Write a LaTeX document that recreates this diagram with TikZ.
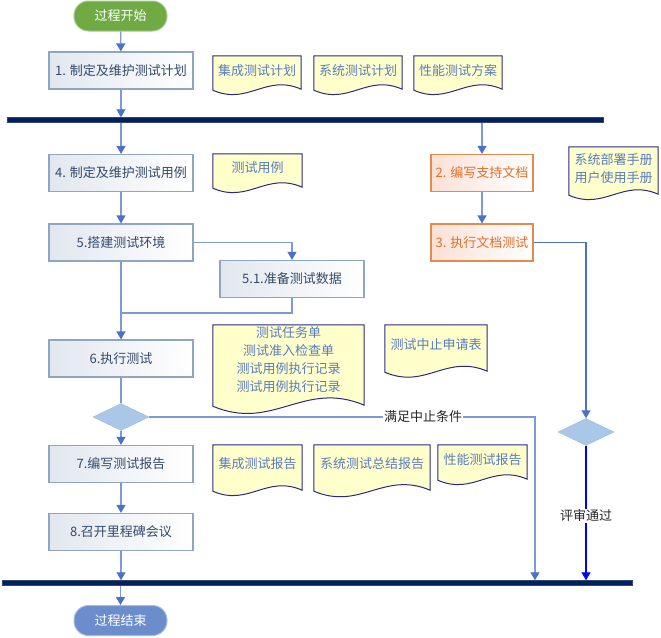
\documentclass[tikz,border=0pt]{standalone}
\usepackage{fontspec}
\setmainfont{Noto Sans CJK SC}
\usetikzlibrary{arrows.meta,shapes.geometric,calc}
\pgfdeclarelayer{bg}
\pgfsetlayers{bg,main}
\definecolor{procline}{HTML}{8FA5C0}
\definecolor{procfill}{HTML}{E2E7EF}
\definecolor{proctext}{HTML}{34496A}
\definecolor{orline}{HTML}{E38A4E}
\definecolor{orfill}{HTML}{FBE0D6}
\definecolor{ortext}{HTML}{E0702A}
\definecolor{docline}{HTML}{2A2A86}
\definecolor{docfill}{HTML}{FFFFCC}
\definecolor{doctext}{HTML}{5A7CC2}
\definecolor{conn}{HTML}{7C9AD8}
\definecolor{tipc}{HTML}{4A72C6}
\definecolor{barc}{HTML}{002060}
\definecolor{diafill}{HTML}{A9C8E8}
\definecolor{startc}{HTML}{6FAA45}
\definecolor{endc}{HTML}{6B8DCC}
\tikzset{
  txt/.style={font=\fontsize{13}{18}\selectfont},
  proc/.style={txt, draw=procline, line width=1.2pt, left color=procfill, right color=white,
    minimum width=144pt, minimum height=37pt, inner sep=0pt, text=proctext},
  orproc/.style={txt, draw=orline, line width=1.2pt, left color=orfill, right color=white,
    minimum width=102pt, minimum height=37pt, inner sep=0pt, text=ortext},
  docnode/.style={txt, text=doctext, inner sep=0pt, align=center},
  pill/.style={txt, text=white, rounded corners=14.5pt, minimum width=93pt, minimum height=30pt, inner sep=0pt},
  dia/.style={diamond, fill=diafill, draw=diafill!80!gray, line width=0.4pt, minimum width=56pt, minimum height=27pt, inner sep=0pt},
  bar/.style={fill=barc, draw=barc!60!gray, line width=0.5pt, minimum height=5pt, inner sep=0pt},
  ln/.style={draw=conn, line width=1.2pt},
  arr/.style={ln, -{Triangle[width=9pt,length=8pt,color=tipc]}},
  lab/.style={txt, fill=white, text=black!85, inner sep=1pt},
}
\newcommand\wavy[4]{%
  \coordinate (#1-sw) at ($(#1.south west)+(0,#2)$);
  \coordinate (#1-se) at ($(#1.south east)+(0,#2-1)$);
  \begin{pgfonlayer}{bg}
  \draw[draw=docline, fill=docfill, line width=1pt] (#1.north west) -- (#1.north east) -- (#1-se)
    .. controls ($(#1-se)!0.4!(#1-sw)+(0,-#3)$) and ($(#1-se)!0.6!(#1-sw)+(0,#4)$) .. (#1-sw) -- cycle;
  \end{pgfonlayer}}
\begin{document}
\begin{tikzpicture}[x=1pt,y=-1pt]
\useasboundingbox (0,0) rectangle (661,637);
% start / end
\node[pill, fill=startc, draw=startc!60!white, line width=1pt] (start) at (120.5,16) {过程开始};
\node[pill, fill=endc, draw=endc!60!white, line width=1pt] (end) at (120.5,620.5) {过程结束};
% bars
\node[bar, minimum width=596pt] (bar1) at (305,120) {};
\node[bar, minimum width=630pt] (bar2) at (317,583) {};
% process boxes
\node[proc] (b1) at (121,70.5) {1. 制定及维护测试计划};
\node[proc] (b4) at (121,173) {4. 制定及维护测试用例};
\node[proc] (b5) at (121,242.5) {5.搭建测试环境};
\node[proc] (b51) at (292,279) {5.1.准备测试数据};
\node[proc] (b6) at (121,358.5) {6.执行测试};
\node[proc] (b7) at (121,464) {7.编写测试报告};
\node[proc] (b8) at (121,532) {8.召开里程碑会议};
\node[orproc] (b2) at (482,173) {2. 编写支持文档};
\node[orproc] (b3) at (482,242.5) {3. 执行文档测试};
% diamonds
\node[dia] (d1) at (121,417) {};
\node[dia] (d2) at (586,432) {};
% documents
\node[docnode, minimum width=88pt, minimum height=30pt] (t1) at (257,71) {集成测试计划};
\node[docnode, minimum width=88pt, minimum height=30pt] (t2) at (358,71) {系统测试计划};
\node[docnode, minimum width=88pt, minimum height=30pt] (t3) at (458,71) {性能测试方案};
\node[docnode, minimum width=89pt, minimum height=28pt] (t4) at (257.5,168) {测试用例};
\node[docnode, minimum width=89pt, minimum height=43pt] (t5) at (613.5,168.5) {系统部署手册\\用户使用手册};
\node[docnode, minimum width=151pt, minimum height=70pt] (t6) at (288.5,360) {测试任务单\\测试准入检查单\\测试用例执行记录\\测试用例执行记录};
\node[docnode, minimum width=102pt, minimum height=40pt] (t7) at (436,345) {测试中止申请表};
\node[docnode, minimum width=89pt, minimum height=38pt] (t8) at (257.5,464) {集成测试报告};
\node[docnode, minimum width=116pt, minimum height=38pt] (t9) at (372,464) {系统测试总结报告};
\node[docnode, minimum width=89pt, minimum height=30pt] (t10) at (482.5,460) {性能测试报告};
\wavy{t1}{4}{16}{16}
\wavy{t2}{4}{16}{16}
\wavy{t3}{4}{16}{16}
\wavy{t4}{6}{16}{16}
\wavy{t5}{5}{16}{16}
\wavy{t6}{11}{26}{26}
\wavy{t7}{7}{18}{18}
\wavy{t8}{8}{16}{16}
\wavy{t9}{8}{20}{20}
\wavy{t10}{5}{16}{16}
% connectors
\draw[arr] (start) -- (b1);
\draw[arr] (b1) -- (b1.south |- bar1.north);
\draw[arr] (bar1.south -| b4.north) -- (b4);
\draw[arr] (bar1.south -| b2.north) -- (b2);
\draw[arr] (b4) -- (b5);
\draw[arr] (b2) -- (b3);
\draw[arr] (b5.east) -| (b51.north);
\coordinate (j) at (121,313);
\draw[ln] (b5) -- (j);
\draw[ln] (b51.south) |- (j);
\draw[arr] (j) -- (b6);
\draw[ln] (b6) -- (d1);
\draw[arr] (d1) -- (b7);
\draw[arr] (b7) -- (b8);
\draw[arr] (b8) -- (b8.south |- bar2.north);
\draw[arr] (bar2.south -| end.north) -- (end);
\coordinate (c1) at (535,417);
\draw[arr] (d1.east) -- node[lab, pos=0.71] {满足中止条件} (c1) -- (c1 |- bar2.north);
\draw[ln, draw=tipc, -{Triangle[width=9pt,length=8pt,color=tipc]}] (b3.east) -| (d2.north);
\draw[draw=blue, line width=1.2pt, -{Triangle[width=9pt,length=8pt,color=blue]}] (d2.south) -- node[lab, pos=0.52] {评审通过} (d2.south |- bar2.north);
\end{tikzpicture}
\end{document}
